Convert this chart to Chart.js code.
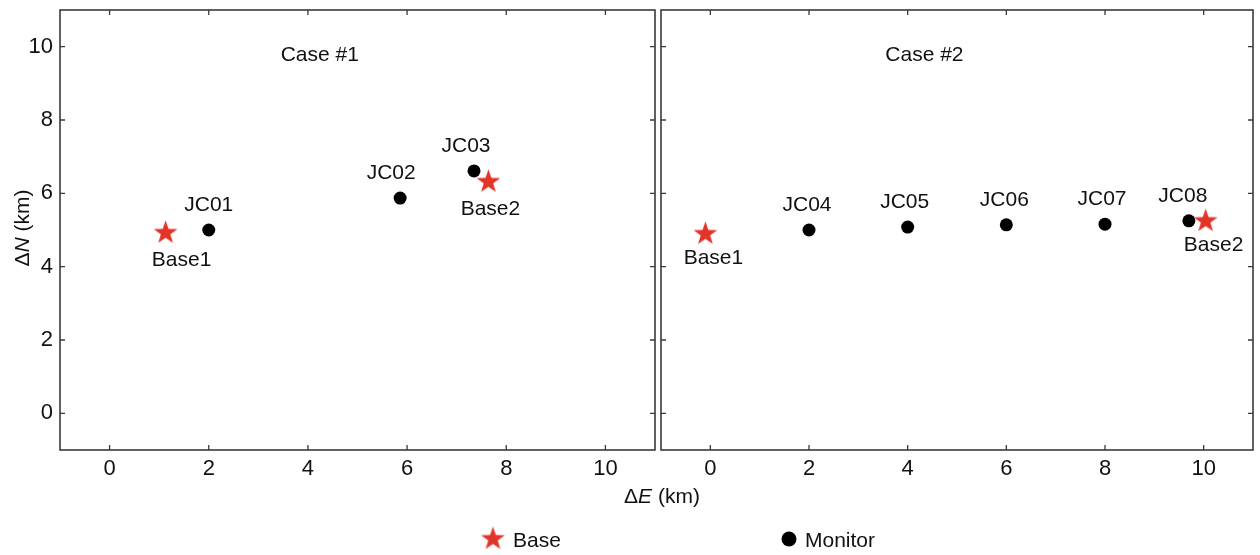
<!DOCTYPE html>
<html>
<head>
<meta charset="utf-8">
<script src="https://cdn.jsdelivr.net/npm/chart.js"></script>
<style>
  html, body { margin: 0; padding: 0; background: #fff; }
  #wrap { position: relative; width: 1260px; height: 555px; }
  #wrap canvas { position: absolute; top: 0; }
  #c1 { left: 0; width: 1260px; height: 555px; }
  #c2 { left: 657px; width: 603px; height: 555px; }
</style>
</head>
<body>
<div id="wrap">
  <canvas id="c1" width="1260" height="555"></canvas>
  <canvas id="c2" width="603" height="555"></canvas>
</div>
<script>
// station positions, km east / north
const case1BaseNames = ['Base1', 'Base2'];
const case1BaseE = [1.13, 7.64];
const case1BaseN = [4.95, 6.34];
const case1MonNames = ['JC01', 'JC02', 'JC03'];
const case1MonE = [2.0, 5.86, 7.35];
const case1MonN = [5.0, 5.87, 6.61];

const case2BaseNames = ['Base1', 'Base2'];
const case2BaseE = [-0.1, 10.04];
const case2BaseN = [4.92, 5.27];
const case2MonNames = ['JC04', 'JC05', 'JC06', 'JC07', 'JC08'];
const case2MonE = [2.0, 4.0, 6.0, 8.0, 9.7];
const case2MonN = [5.0, 5.08, 5.14, 5.16, 5.25];

const tickValues = [0, 2, 4, 6, 8, 10];
const axisMin = -1, axisMax = 11;

const FONT = '"Liberation Sans", Arial, Helvetica, sans-serif';
const RED = '#e2352a';
const INK = '#111';
const FRAME = '#3a3a3a';

// filled five-point star used as point style
function makeStar(size) {
  const c = document.createElement('canvas');
  c.width = c.height = size;
  const g = c.getContext('2d');
  const cx = size / 2, cy = size / 2 + size * 0.04;
  const ro = size / 2, ri = ro * 0.4;
  g.beginPath();
  for (let i = 0; i < 10; i++) {
    const r = i % 2 ? ri : ro;
    const a = -Math.PI / 2 + i * Math.PI / 5;
    g.lineTo(cx + r * Math.cos(a), cy + r * Math.sin(a));
  }
  g.closePath();
  g.fillStyle = RED;
  g.fill();
  return c;
}
const starImg = makeStar(25);

const toPoints = (xs, ys) => xs.map((x, i) => ({ x, y: ys[i] }));

function datasets(monNames, monE, monN, baseNames, baseE, baseN) {
  return [
    {
      label: 'Monitor',
      names: monNames,
      side: 'above',
      data: toPoints(monE, monN),
      pointStyle: 'circle',
      pointRadius: 6.5,
      pointHoverRadius: 6.5,
      backgroundColor: '#000',
      borderColor: '#000',
      borderWidth: 0
    },
    {
      label: 'Base',
      names: baseNames,
      side: 'below',
      data: toPoints(baseE, baseN),
      pointStyle: starImg,
      pointRadius: 12,
      pointHoverRadius: 12
    }
  ];
}

function mixedText(ctx, parts, cx, cy, size) {
  let total = 0;
  parts.forEach(p => {
    ctx.font = (p[1] ? 'italic ' : '') + size + 'px ' + FONT;
    total += ctx.measureText(p[0]).width;
  });
  let x = cx - total / 2;
  ctx.textAlign = 'left';
  ctx.textBaseline = 'middle';
  parts.forEach(p => {
    ctx.font = (p[1] ? 'italic ' : '') + size + 'px ' + FONT;
    ctx.fillText(p[0], x, cy);
    x += ctx.measureText(p[0]).width;
  });
}

// box around the plot area with inward ticks on all four sides
const frame = {
  id: 'frame',
  beforeDatasetsDraw(chart) {
    const { ctx, chartArea: a, scales: { x, y } } = chart;
    ctx.save();
    ctx.strokeStyle = FRAME;
    ctx.lineWidth = 1.6;
    ctx.strokeRect(a.left, a.top, a.right - a.left, a.bottom - a.top);
    ctx.lineWidth = 1.3;
    ctx.beginPath();
    tickValues.forEach(v => {
      const px = x.getPixelForValue(v);
      ctx.moveTo(px, a.bottom); ctx.lineTo(px, a.bottom - 5);
      ctx.moveTo(px, a.top); ctx.lineTo(px, a.top + 5);
      const py = y.getPixelForValue(v);
      ctx.moveTo(a.left, py); ctx.lineTo(a.left + 5, py);
      ctx.moveTo(a.right, py); ctx.lineTo(a.right - 5, py);
    });
    ctx.stroke();
    ctx.restore();
  }
};

// station names next to the markers, plus the panel heading
const stationLabels = {
  id: 'stationLabels',
  afterDatasetsDraw(chart, args, opts) {
    const { ctx, scales: { x, y } } = chart;
    ctx.save();
    ctx.fillStyle = INK;
    ctx.font = '21px ' + FONT;
    ctx.textAlign = 'center';
    ctx.textBaseline = 'middle';
    chart.data.datasets.forEach((ds, i) => {
      chart.getDatasetMeta(i).data.forEach((pt, j) => {
        const name = ds.names[j];
        const dx = (opts.nudge && opts.nudge[name]) || 0;
        const dy = ds.side === 'below' ? opts.below : -25;
        ctx.fillText(name, pt.x + dx, pt.y + dy);
      });
    });
    ctx.fillText(opts.heading, x.getPixelForValue(opts.headingAt[0]), y.getPixelForValue(opts.headingAt[1]));
    ctx.restore();
  }
};

// shared axis titles and legend across both panels
const shared = {
  id: 'shared',
  afterDraw(chart) {
    const ctx = chart.ctx;
    ctx.save();
    ctx.fillStyle = INK;
    ctx.translate(23, 228);
    ctx.rotate(-Math.PI / 2);
    mixedText(ctx, [['Δ'], ['N', true], [' (km)']], 0, 0, 21);
    ctx.restore();

    ctx.save();
    ctx.fillStyle = INK;
    mixedText(ctx, [['Δ'], ['E', true], [' (km)']], 662, 497, 21);

    ctx.drawImage(starImg, 493 - 12.5, 538 - 12.5);
    ctx.beginPath();
    ctx.arc(789, 539, 7.5, 0, Math.PI * 2);
    ctx.fillStyle = '#000';
    ctx.fill();
    ctx.fillStyle = INK;
    ctx.font = '21px ' + FONT;
    ctx.textAlign = 'left';
    ctx.textBaseline = 'middle';
    ctx.fillText('Base', 513, 541);
    ctx.fillText('Monitor', 805, 541);
    ctx.restore();
  }
};

function scales(showY, yWidth) {
  const fixTicks = s => { s.ticks = tickValues.map(v => ({ value: v })); };
  return {
    x: {
      type: 'linear',
      min: axisMin, max: axisMax,
      afterBuildTicks: fixTicks,
      afterFit: s => { s.height = 105; s.paddingLeft = 0; s.paddingRight = 0; },
      grid: { display: false, drawTicks: false },
      border: { display: false },
      ticks: { color: INK, padding: 6, font: { family: FONT, size: 22 } }
    },
    y: {
      type: 'linear',
      min: axisMin, max: axisMax,
      afterBuildTicks: fixTicks,
      afterFit: s => { s.width = yWidth; s.paddingTop = 0; s.paddingBottom = 0; },
      grid: { display: false, drawTicks: false },
      border: { display: false },
      ticks: { display: showY, color: INK, padding: 7, font: { family: FONT, size: 22 } }
    }
  };
}

const common = {
  responsive: false,
  devicePixelRatio: 1,
  animation: false,
  events: []
};

new Chart(document.getElementById('c1'), {
  type: 'scatter',
  data: { datasets: datasets(case1MonNames, case1MonE, case1MonN, case1BaseNames, case1BaseE, case1BaseN) },
  options: Object.assign({}, common, {
    layout: { autoPadding: false, padding: { top: 10, right: 605, left: 0, bottom: 0 } },
    scales: scales(true, 60),
    plugins: {
      legend: { display: false },
      tooltip: { enabled: false },
      stationLabels: {
        heading: 'Case #1', headingAt: [4.24, 9.78], below: 28,
        nudge: { Base1: 16, JC02: -9, JC03: -8, Base2: 2 }
      }
    }
  }),
  plugins: [frame, stationLabels, shared]
});

new Chart(document.getElementById('c2'), {
  type: 'scatter',
  data: { datasets: datasets(case2MonNames, case2MonE, case2MonN, case2BaseNames, case2BaseE, case2BaseN) },
  options: Object.assign({}, common, {
    layout: { autoPadding: false, padding: { top: 10, right: 7, left: 0, bottom: 0 } },
    scales: scales(false, 4),
    plugins: {
      legend: { display: false },
      tooltip: { enabled: false },
      stationLabels: {
        heading: 'Case #2', headingAt: [4.34, 9.78], below: 25,
        nudge: { Base1: 8, JC04: -2, JC05: -3, JC06: -2, JC07: -3, JC08: -6, Base2: 8 }
      }
    }
  }),
  plugins: [frame, stationLabels]
});
</script>
</body>
</html>
